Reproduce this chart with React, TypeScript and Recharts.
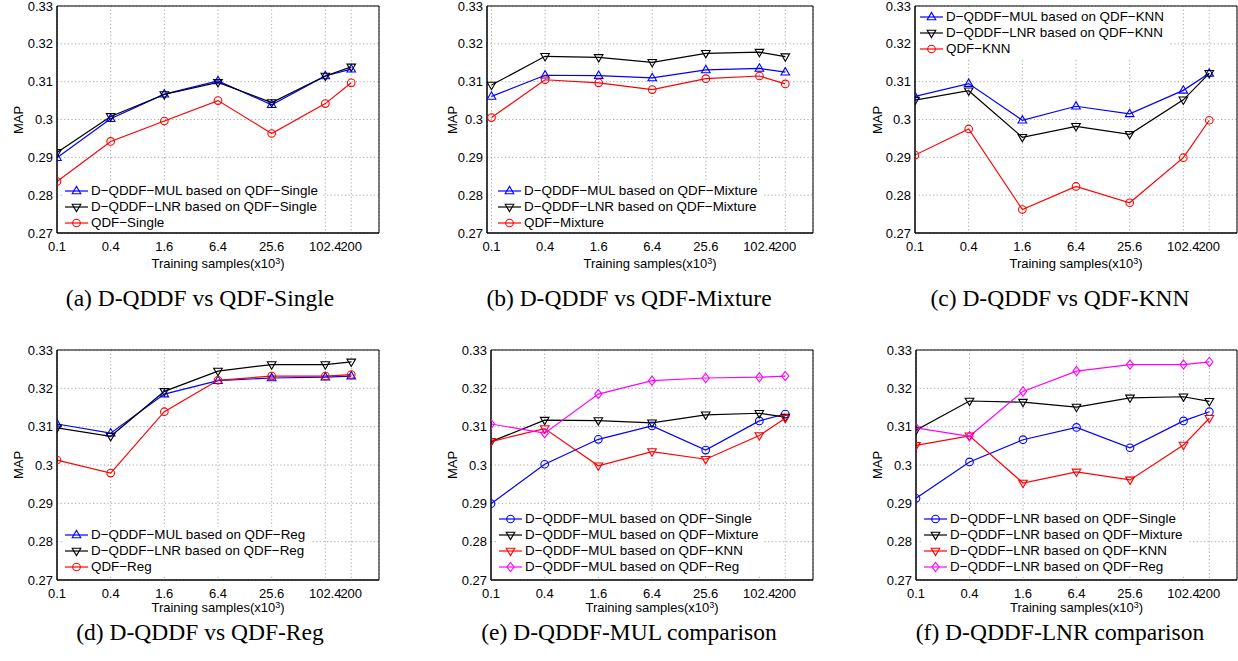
import React from 'react';
import { LineChart, Line, XAxis, YAxis, CartesianGrid, ReferenceLine } from 'recharts';

const samples = [0.1, 0.4, 1.6, 6.4, 25.6, 102.4, 200];
const yTicks = [0.27, 0.28, 0.29, 0.3, 0.31, 0.32, 0.33];

// QDF-Single
const mulSingle = [0.2899, 0.3002, 0.3067, 0.3102, 0.3039, 0.3115, 0.3133];
const lnrSingle = [0.2913, 0.3008, 0.3066, 0.3098, 0.3045, 0.3115, 0.3139];
const qdfSingle = [0.2836, 0.2942, 0.2996, 0.305, 0.2963, 0.3042, 0.3097];
// QDF-Mixture
const mulMixture = [0.3061, 0.3117, 0.3116, 0.311, 0.3131, 0.3135, 0.3125];
const lnrMixture = [0.3091, 0.3167, 0.3164, 0.3151, 0.3175, 0.3178, 0.3166];
const qdfMixture = [0.3005, 0.3105, 0.3097, 0.3079, 0.3108, 0.3115, 0.3094];
// QDF-KNN
const mulKnn = [0.3061, 0.3095, 0.2998, 0.3035, 0.3015, 0.3077, 0.3122];
const lnrKnn = [0.3051, 0.3076, 0.2953, 0.2982, 0.2961, 0.3052, 0.3122];
const qdfKnn = [0.2906, 0.2975, 0.2762, 0.2823, 0.278, 0.2899, 0.2998];
// QDF-Reg
const mulReg = [0.3107, 0.3083, 0.3185, 0.322, 0.3227, 0.3229, 0.3232];
const lnrReg = [0.3097, 0.3075, 0.3192, 0.3245, 0.3262, 0.3262, 0.3269];
const qdfReg = [0.3013, 0.2979, 0.3139, 0.3221, 0.3232, 0.3232, 0.3236];

const FONT = '"Liberation Sans", Arial, Helvetica, sans-serif';
const SERIF = '"Liberation Serif", "Times New Roman", serif';
const X_MAX = 409.6;

type MarkerKind = 'up' | 'down' | 'circle' | 'diamond';

interface Series {
  name: string;
  values: number[];
  color: string;
  marker: MarkerKind;
}

interface Panel {
  id: string;
  left: number;
  top: number;
  width: number;
  height: number;
  xMin: number;
  caption: string;
  captionX: number;
  captionY: number;
  mapX: number;
  titleY: number;
  legendX: number;
  legendY: number;
  series: Series[];
}

const BLUE = '#0000ff';
const BLACK = '#000000';
const RED = '#ff0000';
const MAGENTA = '#ff00ff';

const panels: Panel[] = [
  {
    id: 'a', left: 57, top: 6, width: 322, height: 227, xMin: 0.1,
    caption: '(a) D-QDDF vs QDF-Single', captionX: 200, captionY: 299, mapX: 18, titleY: 263,
    legendX: 65, legendY: 192,
    series: [
      { name: 'D−QDDF−MUL based on QDF−Single', values: mulSingle, color: BLUE, marker: 'up' },
      { name: 'D−QDDF−LNR based on QDF−Single', values: lnrSingle, color: BLACK, marker: 'down' },
      { name: 'QDF−Single', values: qdfSingle, color: RED, marker: 'circle' },
    ],
  },
  {
    id: 'b', left: 487, top: 6, width: 326, height: 227, xMin: 0.089,
    caption: '(b) D-QDDF vs QDF-Mixture', captionX: 629, captionY: 299, mapX: 452, titleY: 263,
    legendX: 498, legendY: 192,
    series: [
      { name: 'D−QDDF−MUL based on QDF−Mixture', values: mulMixture, color: BLUE, marker: 'up' },
      { name: 'D−QDDF−LNR based on QDF−Mixture', values: lnrMixture, color: BLACK, marker: 'down' },
      { name: 'QDF−Mixture', values: qdfMixture, color: RED, marker: 'circle' },
    ],
  },
  {
    id: 'c', left: 915, top: 6, width: 322, height: 227, xMin: 0.1,
    caption: '(c) D-QDDF vs QDF-KNN', captionX: 1060, captionY: 299, mapX: 877, titleY: 263,
    legendX: 920, legendY: 18,
    series: [
      { name: 'D−QDDF−MUL based on QDF−KNN', values: mulKnn, color: BLUE, marker: 'up' },
      { name: 'D−QDDF−LNR based on QDF−KNN', values: lnrKnn, color: BLACK, marker: 'down' },
      { name: 'QDF−KNN', values: qdfKnn, color: RED, marker: 'circle' },
    ],
  },
  {
    id: 'd', left: 57, top: 350, width: 322, height: 230, xMin: 0.1,
    caption: '(d) D-QDDF vs QDF-Reg', captionX: 200, captionY: 633, mapX: 18, titleY: 607,
    legendX: 65, legendY: 536,
    series: [
      { name: 'D−QDDF−MUL based on QDF−Reg', values: mulReg, color: BLUE, marker: 'up' },
      { name: 'D−QDDF−LNR based on QDF−Reg', values: lnrReg, color: BLACK, marker: 'down' },
      { name: 'QDF−Reg', values: qdfReg, color: RED, marker: 'circle' },
    ],
  },
  {
    id: 'e', left: 491, top: 350, width: 322, height: 230, xMin: 0.1,
    caption: '(e) D-QDDF-MUL comparison', captionX: 629, captionY: 633, mapX: 452, titleY: 607,
    legendX: 499, legendY: 520,
    series: [
      { name: 'D−QDDF−MUL based on QDF−Single', values: mulSingle, color: BLUE, marker: 'circle' },
      { name: 'D−QDDF−MUL based on QDF−Mixture', values: mulMixture, color: BLACK, marker: 'down' },
      { name: 'D−QDDF−MUL based on QDF−KNN', values: mulKnn, color: RED, marker: 'down' },
      { name: 'D−QDDF−MUL based on QDF−Reg', values: mulReg, color: MAGENTA, marker: 'diamond' },
    ],
  },
  {
    id: 'f', left: 916, top: 350, width: 321, height: 230, xMin: 0.1,
    caption: '(f) D-QDDF-LNR comparison', captionX: 1060, captionY: 633, mapX: 877, titleY: 607,
    legendX: 924, legendY: 520,
    series: [
      { name: 'D−QDDF−LNR based on QDF−Single', values: lnrSingle, color: BLUE, marker: 'circle' },
      { name: 'D−QDDF−LNR based on QDF−Mixture', values: lnrMixture, color: BLACK, marker: 'down' },
      { name: 'D−QDDF−LNR based on QDF−KNN', values: lnrKnn, color: RED, marker: 'down' },
      { name: 'D−QDDF−LNR based on QDF−Reg', values: lnrReg, color: MAGENTA, marker: 'diamond' },
    ],
  },
];

const MarkerShape = ({ cx, cy, kind, color }: { cx?: number; cy?: number; kind: MarkerKind; color: string }) => {
  if (cx == null || cy == null) return null;
  const common = { fill: 'none', stroke: color, strokeWidth: 1.1 };
  switch (kind) {
    case 'up':
      return <polygon points={`${cx},${cy - 4.6} ${cx - 4.3},${cy + 2.8} ${cx + 4.3},${cy + 2.8}`} {...common} />;
    case 'down':
      return <polygon points={`${cx},${cy + 4.6} ${cx - 4.3},${cy - 2.8} ${cx + 4.3},${cy - 2.8}`} {...common} />;
    case 'diamond':
      return <polygon points={`${cx},${cy - 4.6} ${cx + 3.6},${cy} ${cx},${cy + 4.6} ${cx - 3.6},${cy}`} {...common} />;
    default:
      return <circle cx={cx} cy={cy} r={3.8} {...common} />;
  }
};

const fmt = (v: number) => String(v);

const PanelChart = ({ p }: { p: Panel }) => {
  const data = samples.map((x, i) => {
    const row: Record<string, number> = { x };
    p.series.forEach((s, k) => {
      row['s' + k] = s.values[i];
    });
    return row;
  });

  const padL = 50;
  const padT = 6;
  const padR = 6;
  const padB = 30;

  return (
    <>
      <div style={{ position: 'absolute', left: p.left - padL, top: p.top - padT }}>
        <LineChart
          width={p.width + padL + padR}
          height={p.height + padT + padB}
          data={data}
          margin={{ top: padT, right: padR, left: 0, bottom: 0 }}
        >
          <CartesianGrid stroke="#a8a8a8" strokeDasharray="1.2 2.4" />
          <XAxis
            dataKey="x"
            type="number"
            scale="log"
            domain={[p.xMin, X_MAX]}
            ticks={samples}
            interval={0}
            allowDataOverflow
            height={padB}
            tickFormatter={fmt}
            tickLine={false}
            tickSize={6}
            tickMargin={3}
            axisLine={{ stroke: '#000', strokeWidth: 1.5 }}
            tick={{ fill: '#000', fontSize: 13, fontFamily: FONT }}
          />
          <YAxis
            type="number"
            domain={[0.27, 0.33]}
            ticks={yTicks}
            interval={0}
            allowDataOverflow
            width={padL}
            tickFormatter={fmt}
            tickLine={false}
            tickSize={3}
            tickMargin={1}
            axisLine={{ stroke: '#000', strokeWidth: 1.5 }}
            tick={{ fill: '#000', fontSize: 13, fontFamily: FONT }}
          />
          <ReferenceLine y={0.33} stroke="#000" strokeWidth={1} />
          <ReferenceLine x={X_MAX} stroke="#000" strokeWidth={1} />
          {p.series.map((s, k) => (
            <Line
              key={s.name}
              dataKey={'s' + k}
              type="linear"
              stroke={s.color}
              strokeWidth={1.2}
              isAnimationActive={false}
              activeDot={false}
              dot={(d: any) => (
                <MarkerShape key={`${p.id}-${k}-${d.index}`} cx={d.cx} cy={d.cy} kind={s.marker} color={s.color} />
              )}
            />
          ))}
        </LineChart>
      </div>

      {/* legend */}
      <div
        style={{
          position: 'absolute',
          left: p.legendX - 3,
          top: p.legendY - 9,
          background: '#fff',
          padding: '0 5px 1px 3px',
          fontFamily: FONT,
          fontSize: 13.4,
          lineHeight: '16px',
          whiteSpace: 'nowrap',
        }}
      >
        {p.series.map((s) => (
          <div key={s.name} style={{ display: 'flex', alignItems: 'center', height: 16 }}>
            <svg width={24} height={12} style={{ marginRight: 2 }}>
              <line x1={0} y1={6} x2={23} y2={6} stroke={s.color} strokeWidth={1.2} />
              <MarkerShape cx={11.5} cy={6} kind={s.marker} color={s.color} />
            </svg>
            <span>{s.name}</span>
          </div>
        ))}
      </div>

      {/* y label */}
      <div
        style={{
          position: 'absolute',
          left: p.mapX,
          top: p.top + p.height / 2,
          transform: 'translate(-50%, -50%) rotate(-90deg)',
          fontFamily: FONT,
          fontSize: 13,
          whiteSpace: 'nowrap',
        }}
      >
        MAP
      </div>

      {/* x label */}
      <div
        style={{
          position: 'absolute',
          left: p.left + p.width / 2,
          top: p.titleY + 1,
          transform: 'translate(-50%, -50%)',
          fontFamily: FONT,
          fontSize: 13,
          lineHeight: '15px',
          whiteSpace: 'nowrap',
        }}
      >
        Training samples(x10<span style={{ fontSize: 9, position: 'relative', top: -4 }}>3</span>)
      </div>

      {/* caption */}
      <div
        style={{
          position: 'absolute',
          left: p.captionX,
          top: p.captionY,
          transform: 'translate(-50%, -50%)',
          fontFamily: SERIF,
          fontSize: 23.5,
          lineHeight: 1,
          whiteSpace: 'nowrap',
        }}
      >
        {p.caption}
      </div>
    </>
  );
};

export default function App() {
  return (
    <div
      style={{
        position: 'absolute',
        left: 0,
        top: 0,
        width: 1238,
        height: 661,
        overflow: 'hidden',
        background: '#fff',
      }}
    >
      {panels.map((p) => (
        <PanelChart key={p.id} p={p} />
      ))}
    </div>
  );
}
